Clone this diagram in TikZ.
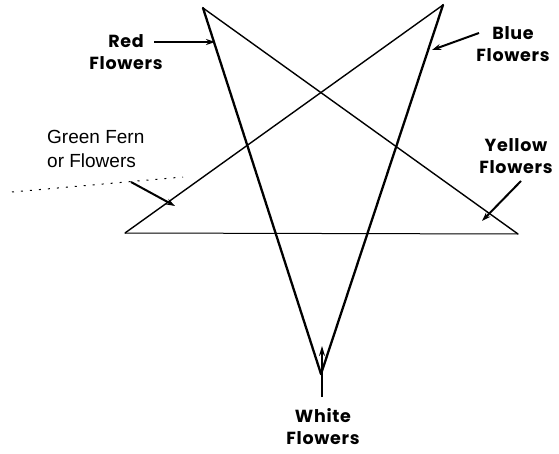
\documentclass[tikz,border=0pt]{standalone}
\usepackage{fontspec}
\usetikzlibrary{arrows.meta}
\newfontfamily\lblfont[LetterSpace=4]{Poppins}
\newfontfamily\grnfont{Liberation Sans}
\begin{document}
\begin{tikzpicture}[x=1pt,y=-1pt,
  star/.style={line width=1.4pt,line cap=round},
  heavy/.style={line width=2.3pt,line cap=round},
  pointer/.style={line width=2pt,-{Stealth[length=9pt,width=6pt]}},
  lbl/.style={font=\lblfont\bfseries\fontsize{17.5}{22}\selectfont,align=center,inner sep=0pt},
  grn/.style={font=\grnfont\fontsize{19}{24}\selectfont,align=left,inner sep=0pt}]
\useasboundingbox (0,0) rectangle (559,454);
% star vertices
\coordinate (TL) at (203,8);
\coordinate (TR) at (443,5);
\coordinate (L) at (125,233);
\coordinate (R) at (518,234);
\coordinate (B) at (321,374);
% star lines
\draw[heavy] (TL) -- (B);
\draw[heavy] (TR) -- (B);
\draw[star] (TL) -- (R);
\draw[star] (TR) -- (L);
\draw[line width=1pt] (L) -- (R);
% labels
\node[lbl] (red) at (126,52) {Red\\Flowers};
\node[lbl] (blue) at (513,44) {Blue\\Flowers};
\node[lbl] (yellow) at (516,156) {Yellow\\Flowers};
\node[lbl] (white) at (323,427) {White\\Flowers};
\node[grn,anchor=west] (green) at (47,149) {Green Fern\\or Flowers};
% targets
\coordinate (tRed) at (215,42);
\coordinate (tBlue) at (432,50);
\coordinate (tGreen) at (175,206);
\coordinate (tYellow) at (482,221);
\coordinate (tWhite) at (322,346);
\coordinate (sRed) at (154,42);
\coordinate (sBlue) at (479,33);
\coordinate (sGreen) at (131,182);
\coordinate (sYellow) at (521,181);
\coordinate (sWhite) at (322,397);
\coordinate (dotA) at (12,192);
\coordinate (dotB) at (183,177);
% pointers
\draw[pointer] (sRed) -- (tRed);
\draw[pointer] (sBlue) -- (tBlue);
\draw[pointer] (sGreen) -- (tGreen);
\draw[pointer] (sYellow) -- (tYellow);
\draw[line width=1.5pt,-{Stealth[length=10pt,width=6pt]}] (sWhite) -- (tWhite);
\draw[line width=1pt,dash pattern=on 2pt off 7pt] (dotA) -- (dotB);
\end{tikzpicture}
\end{document}
